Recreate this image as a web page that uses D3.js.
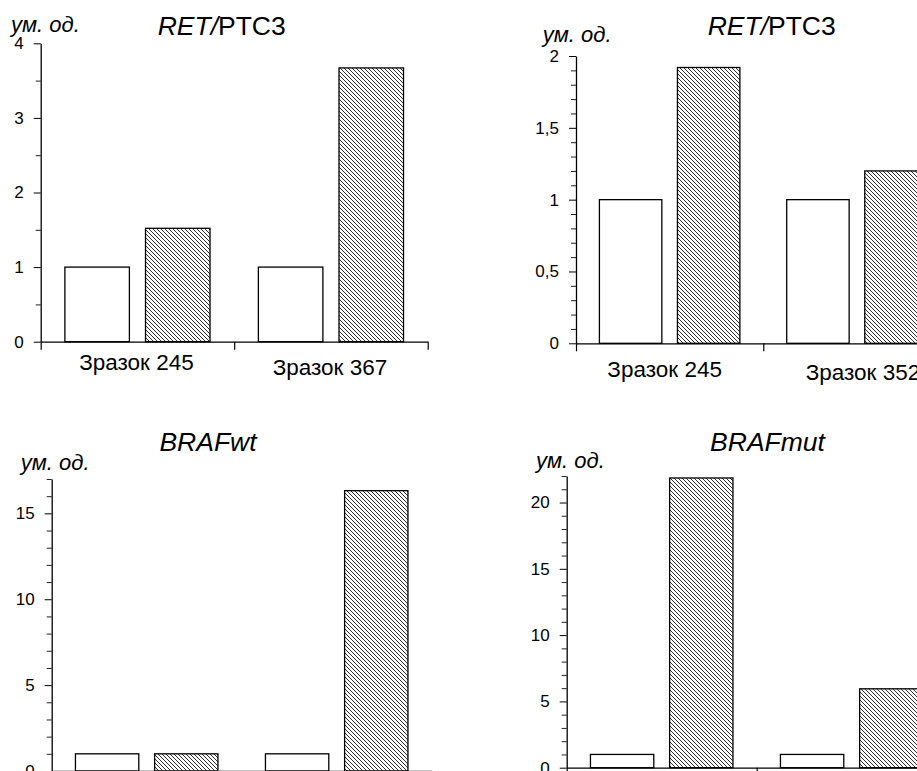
<!DOCTYPE html>
<html><head><meta charset="utf-8">
<script src="https://cdn.jsdelivr.net/npm/d3@7"></script>
<style>
body{margin:0;background:#fff;}
text{font-family:"Liberation Sans",Arial,sans-serif;fill:#000;}
</style></head>
<body>
<svg id="chart" width="917" height="771"></svg>
<script>
// ---------- data ----------
const seriesKeys = ["control", "sample"];
const ret1Categories = ["Зразок 245", "Зразок 367"];
const ret1Control = [1, 1];
const ret1Sample = [1.52, 3.67];
const ret1Ticks = [0, 1, 2, 3, 4];

const ret2Categories = ["Зразок 245", "Зразок 352"];
const ret2Control = [1, 1];
const ret2Sample = [1.92, 1.20];
const ret2Ticks = [0, 0.5, 1, 1.5, 2];

const brafWtCategories = ["Зразок A", "Зразок B"];
const brafWtControl = [1, 1];
const brafWtSample = [1, 16.32];
const brafWtTicks = [0, 5, 10, 15];

const brafMutCategories = ["Зразок A", "Зразок B"];
const brafMutControl = [1, 1];
const brafMutSample = [21.85, 5.95];
const brafMutTicks = [0, 5, 10, 15, 20];

const unitLabel = "ум. од.";

// ---------- layout ----------
const panels = [
  {title:[["RET/",true],["PTC3",false]], cats:ret1Categories, control:ret1Control, sample:ret1Sample,
   ticks:ret1Ticks, minorStep:0.5, ymax:4, left:40.7, bottom:341.7, top:43.3, band:193.5,
   titleX:221.7, titleY:35, unitX:11, unitY:31.5, showLabels:true, labelDy:[28.5,33.5], labelDx:[-1,-1]},
  {title:[["RET/",true],["PTC3",false]], cats:ret2Categories, control:ret2Control, sample:ret2Sample,
   ticks:ret2Ticks, minorStep:0.1, ymax:2, left:576, bottom:343.3, top:56, band:187.3,
   titleX:771.7, titleY:35, unitX:542.7, unitY:41.5, showLabels:true, labelDy:[33.5,37], labelDx:[-5,6]},
  {title:[["BRAFwt",true]], cats:brafWtCategories, control:brafWtControl, sample:brafWtSample,
   ticks:brafWtTicks, minorStep:1, ymax:17, left:51.7, bottom:771, top:479, band:190,
   titleX:208, titleY:450.7, unitX:20.7, unitY:470, showLabels:false},
  {title:[["BRAFmut",true]], cats:brafMutCategories, control:brafMutControl, sample:brafMutSample,
   ticks:brafMutTicks, minorStep:1, ymax:22, left:566.7, bottom:767.7, top:476, band:190,
   titleX:767.5, titleY:450.7, unitX:536, unitY:468.3, showLabels:false}
];

const svg = d3.select("#chart");
const defs = svg.append("defs");
const pat = defs.append("pattern").attr("id","hatch").attr("patternUnits","userSpaceOnUse")
  .attr("width",4).attr("height",4);
pat.append("rect").attr("width",4).attr("height",4).attr("fill","#fff");
pat.append("path").attr("d","M-1,-1L5,5M3,-1L5,1M-1,3L1,5")
  .attr("stroke","#1a1a1a").attr("stroke-width",0.9);

const fmt = v => String(v).replace(".", ",");

panels.forEach(p => {
  const g = svg.append("g");
  const y = d3.scaleLinear().domain([0, p.ymax]).range([p.bottom, p.top]);
  const x = d3.scaleBand().domain(p.cats).range([p.left, p.left + 2*p.band]).padding(0);
  const xi = d3.scaleBand().domain(seriesKeys).range([0, x.bandwidth()]).paddingInner(0.2).paddingOuter(0.3);

  // bars
  const rows = p.cats.map((c,i) => ({cat:c, control:p.control[i], sample:p.sample[i]}));
  rows.forEach(r => {
    seriesKeys.forEach(k => {
      g.append("rect")
        .attr("x", x(r.cat) + xi(k))
        .attr("y", y(r[k]))
        .attr("width", xi.bandwidth())
        .attr("height", y(0) - y(r[k]))
        .attr("fill", k === "control" ? "#fff" : "url(#hatch)")
        .attr("stroke", "#000").attr("stroke-width", 1.3);
    });
  });

  // y axis: minor ticks
  const minorVals = d3.range(0, p.ymax + 1e-9, p.minorStep).map(v => +v.toFixed(6))
     .filter(v => !p.ticks.some(t => Math.abs(t - v) < 1e-6));
  const yMinor = d3.axisLeft(y).tickValues(minorVals).tickSize(5).tickFormat("");
  const gm = g.append("g").attr("transform", `translate(${p.left},0)`).call(yMinor);
  gm.select(".domain").remove();
  gm.selectAll("line").attr("stroke","#222").attr("stroke-width",1);

  const yAxis = d3.axisLeft(y).tickValues(p.ticks).tickSize(7).tickSizeOuter(0).tickFormat(fmt).tickPadding(10);
  const ga = g.append("g").attr("transform", `translate(${p.left},0)`).call(yAxis);
  ga.select(".domain").attr("stroke","#000").attr("stroke-width",1.3);
  ga.selectAll("line").attr("stroke","#000").attr("stroke-width",1);
  ga.selectAll("text").style("font-size","17px").style("font-family","'Liberation Sans',Arial,sans-serif").attr("fill","#000");

  // x axis with ticks at band boundaries
  const xEdges = [p.left, p.left + p.band, p.left + 2*p.band];
  const xLin = d3.scaleLinear().domain([p.left, p.left + 2*p.band]).range([p.left, p.left + 2*p.band]);
  const xAxis = d3.axisBottom(xLin).tickValues(xEdges).tickSize(8).tickSizeOuter(0).tickFormat("");
  const gx = g.append("g").attr("transform", `translate(0,${p.bottom})`).call(xAxis);
  gx.select(".domain").attr("stroke","#000").attr("stroke-width",1.3);
  gx.selectAll("line").attr("stroke","#000").attr("stroke-width",1.2);

  // category labels
  if (p.showLabels) {
    p.cats.forEach((c,i) => {
      g.append("text").attr("x", x(c) + x.bandwidth()/2 + p.labelDx[i]).attr("y", p.bottom + p.labelDy[i])
        .attr("text-anchor","middle").style("font-size","22.5px").text(c);
    });
  }

  // title
  const t = g.append("text").attr("x", p.titleX).attr("y", p.titleY).attr("text-anchor","middle")
    .style("font-size","26.5px");
  p.title.forEach(([s,it]) => t.append("tspan").style("font-style", it ? "italic" : "normal").text(s));

  // unit label
  g.append("text").attr("x", p.unitX).attr("y", p.unitY).style("font-size","22px")
    .style("font-style","italic").text(unitLabel);
});
</script>
</body></html>
